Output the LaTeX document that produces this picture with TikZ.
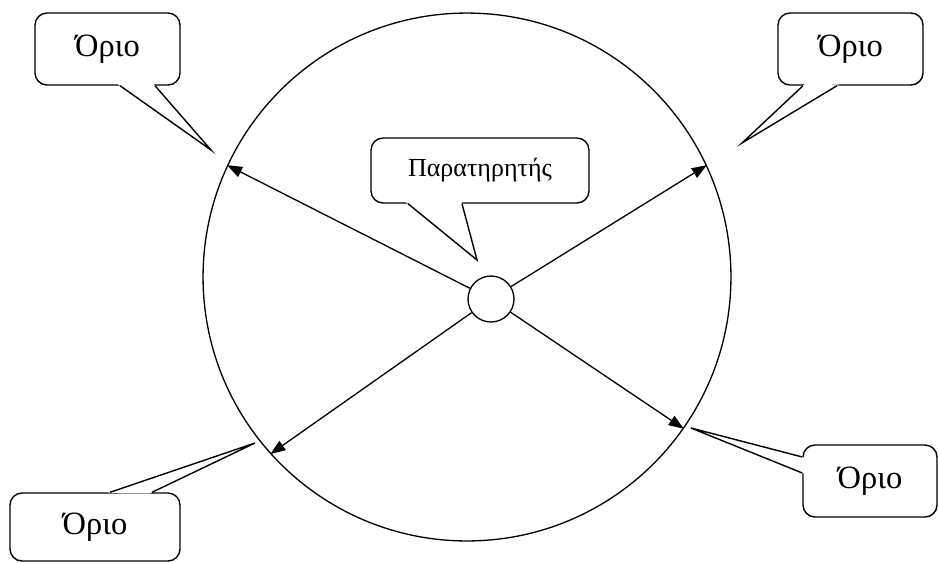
\documentclass[tikz,border=0pt]{standalone}
\usepackage{fontspec}
\setmainfont{Liberation Serif}
\usetikzlibrary{arrows.meta,calc}
\tikzset{
  bubble/.style={draw,line width=0.8pt,rounded corners=0.24cm,align=center,inner sep=0pt,minimum width=2.9cm,minimum height=1.44cm,font=\fontsize{18.5}{22}\selectfont},
  arr/.style={-{Triangle[length=0.3cm,width=0.22cm]},line width=0.75pt},
  tail/.style={line width=0.8pt,line join=miter},
}
\newcommand{\bubtail}[3]{\fill[white] ($(#1)!-1.5pt!(#3)$) -- (#3) -- ($(#2)!-1.5pt!(#3)$) -- cycle; \draw[tail] (#1) -- (#3) -- (#2);}

\begin{document}
\begin{tikzpicture}[x=0.02cm,y=-0.02cm]
\useasboundingbox (0,0) rectangle (939,562);
\clip (0,0) rectangle (939,562);
\node[draw,circle,line width=0.75pt,minimum size=10.56cm,inner sep=0pt] (bound) at (467,277) {};
\node[draw,circle,line width=0.75pt,minimum size=0.92cm,inner sep=0pt] (obs) at (491,299) {};
\foreach \a in {155,25,325,222} {\draw[arr] (obs) -- (bound.\a);}
\node[bubble] (lt) at (107.5,49) {Όριο};
\coordinate (ltp) at (211,150); \bubtail{$(lt.south)+(12.5,0)$}{$(lt.south)+(47.5,0)$}{ltp}
\node[bubble] (rt) at (850.5,49) {Όριο};
\coordinate (rtp) at (742,143); \bubtail{$(rt.south)+(-47.5,0)$}{$(rt.south)+(-13.5,0)$}{rtp}
\node[bubble,minimum width=4.36cm,minimum height=1.3cm,font=\fontsize{14.8}{17}\selectfont] (ob) at (480,170.5) {Παρατηρητής};
\coordinate (obp) at (477,260); \bubtail{$(ob.south)+(-72,0)$}{$(ob.south)+(-18,0)$}{obp}
\node[bubble,minimum width=3.4cm,minimum height=1.36cm] (lb) at (95,527) {Όριο};
\coordinate (lbp) at (255,443); \bubtail{$(lb.north)+(15,0)$}{$(lb.north)+(57,0)$}{lbp}
\node[bubble,minimum width=2.68cm] (rb) at (870,481) {Όριο};
\coordinate (rbp) at (691,428); \bubtail{$(rb.west)+(0,-24)$}{$(rb.west)+(0,-8)$}{rbp}
\end{tikzpicture}
\end{document}
